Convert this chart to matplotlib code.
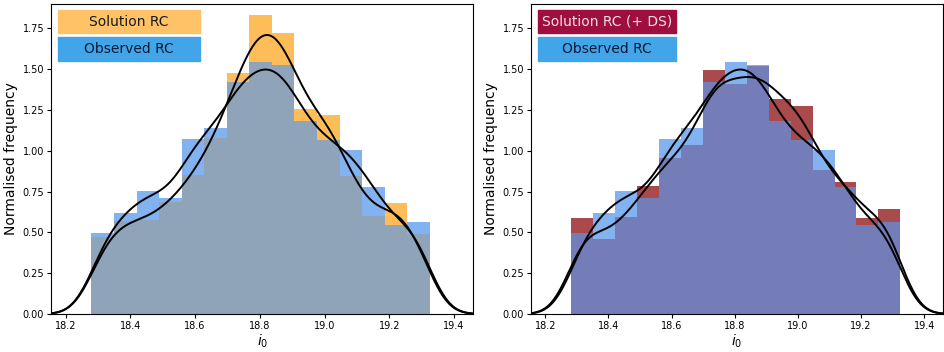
import math
import numpy as np
import matplotlib
matplotlib.use("Agg")
import matplotlib.pyplot as plt
from matplotlib.patches import Rectangle

# histogram bins of i_0 (15 bins)
bin_lo, bin_hi, n_bins = 18.28, 19.325, 15

# normalised frequencies
observed = [0.496, 0.619, 0.756, 0.711, 1.070, 1.137, 1.424, 1.541,
            1.525, 1.182, 1.063, 1.004, 0.777, 0.547, 0.564]
solution = [0.471, 0.572, 0.578, 0.684, 0.854, 1.080, 1.475, 1.832,
            1.721, 1.258, 1.219, 0.848, 0.598, 0.680, 0.492]
solution_ds = [0.586, 0.459, 0.596, 0.787, 0.957, 1.033, 1.494, 1.408,
               1.520, 1.320, 1.275, 0.881, 0.809, 0.588, 0.645]

BLUE_ONLY = "#82b2ef"
LEG_BLUE = "#42a5ea"


def smooth_curve(edges, heights, x, bw=0.052):
    """histogram convolved with a gaussian -> kde-like line"""
    phi = np.frompyfunc(lambda v: 0.5 * (1 + math.erf(v / math.sqrt(2))), 1, 1)
    y = np.zeros_like(x)
    for a, b, h in zip(edges[:-1], edges[1:], heights):
        y += h * (phi((x - a) / bw).astype(float) - phi((x - b) / bw).astype(float))
    return y


def draw_panel(ax, sol, sol_color, overlap_color, leg_color, sol_label, sol_text_color):
    edges = np.linspace(bin_lo, bin_hi, n_bins + 1)
    width = np.diff(edges)
    obs = np.array(observed)
    sol = np.array(sol)
    both = np.minimum(obs, sol)
    ax.bar(edges[:-1], sol, width=width, align="edge", color=sol_color, lw=0)
    ax.bar(edges[:-1], obs, width=width, align="edge", color=BLUE_ONLY, lw=0)
    ax.bar(edges[:-1], both, width=width, align="edge", color=overlap_color, lw=0)

    x = np.linspace(18.155, 19.46, 500)
    ax.plot(x, smooth_curve(edges, sol, x), color="black", lw=1.4)
    ax.plot(x, smooth_curve(edges, obs, x), color="black", lw=1.4)

    ax.set_xlim(18.155, 19.46)
    ax.set_ylim(0, 1.90)
    ax.set_xticks(np.arange(18.2, 19.41, 0.2))
    ax.set_yticks(np.arange(0, 1.76, 0.25))
    ax.tick_params(labelsize=7, length=3, pad=2)
    ax.set_xlabel("$i_0$", fontsize=10, labelpad=1)
    ax.set_ylabel("Normalised frequency", fontsize=10, labelpad=3)

    # legend drawn as coloured boxes
    ax.add_patch(Rectangle((0.017, 0.906), 0.335, 0.075, transform=ax.transAxes,
                           color=leg_color, zorder=5))
    ax.text(0.185, 0.943, sol_label, transform=ax.transAxes, ha="center", va="center",
            fontsize=10, color=sol_text_color, zorder=6)
    ax.add_patch(Rectangle((0.017, 0.816), 0.335, 0.078, transform=ax.transAxes,
                           color=LEG_BLUE, zorder=5))
    ax.text(0.185, 0.855, "Observed RC", transform=ax.transAxes, ha="center", va="center",
            fontsize=10, color="#0a1a33", zorder=6)


fig = plt.figure(figsize=(9.45, 3.52), dpi=100)
ax1 = fig.add_axes([0.054, 0.108, 0.447, 0.881])
ax2 = fig.add_axes([0.562, 0.108, 0.436, 0.881])

draw_panel(ax1, solution, "#ffbd5a", "#8fa3b9", "#ffc266", "Solution RC", "#1a1a1a")
draw_panel(ax2, solution_ds, "#a94a4d", "#757db9", "#9e0f3f", "Solution RC (+ DS)", "#f5dde5")

fig.savefig("out.png", dpi=100)
